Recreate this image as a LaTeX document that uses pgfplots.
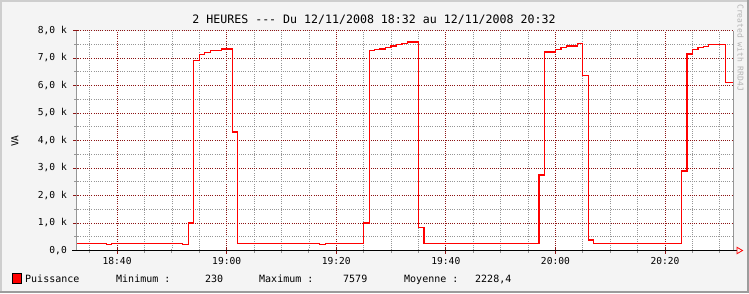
\documentclass[border=0pt]{standalone}
\usepackage{pgfplots}
\pgfplotsset{compat=1.18}
\usepackage{fontspec}
\setmainfont{DejaVu Sans Mono}[Ligatures=TeXOff]
\definecolor{mgrid}{RGB}{140,20,20}
\definecolor{ngrid}{RGB}{150,150,150}
\definecolor{bgc}{RGB}{244,244,244}
\definecolor{frameL}{RGB}{206,206,206}
\definecolor{frameD}{RGB}{156,156,156}
\definecolor{wm}{RGB}{180,180,180}
\definecolor{pred}{RGB}{255,0,0}
\begin{document}
\begin{tikzpicture}[x=1pt,y=1pt]
\path[use as bounding box] (0,0) rectangle (749,293);
\fill[bgc] (0,0) rectangle (749,293);
\fill[frameL] (0,0) rectangle (2,293);
\fill[frameL] (0,291) rectangle (749,293);
\fill[frameD] (747,0) rectangle (749,293);
\fill[frameD] (0,0) rectangle (749,2);
\fill[white] (76,42.5) rectangle (733.5,262.5);
\begin{axis}[
  scale only axis, width=657.5pt, height=220pt,
  at={(76pt,42.5pt)}, anchor=south west,
  xmin=32.5, xmax=152.5, ymin=0, ymax=8000,
  axis line style={draw=none},
  xtick pos=lower, ytick pos=left,
  xtick={40,60,80,100,120,140},
  xticklabels={18:40,19:00,19:20,19:40,20:00,20:20},
  minor xtick={35,45,50,55,65,70,75,85,90,95,105,110,115,125,130,135,145,150},
  ytick={0,1000,2000,3000,4000,5000,6000,7000,8000},
  yticklabels={{0,0},{1,0 k},{2,0 k},{3,0 k},{4,0 k},{5,0 k},{6,0 k},{7,0 k},{8,0 k}},
  minor ytick={500,1500,2500,3500,4500,5500,6500,7500},
  grid=both,
  major grid style={draw=mgrid, line width=0.7pt, dash pattern=on 1pt off 1.2pt},
  minor grid style={draw=ngrid, line width=0.7pt, dash pattern=on 1pt off 1.2pt},
  tick align=center, major tick length=6pt, minor tick length=4pt,
  major tick style={draw=mgrid, line width=0.8pt},
  minor tick style={draw=ngrid, line width=0.8pt},
  xticklabel style={font=\fontsize{9.6}{11}\selectfont, inner sep=0pt, anchor=north, yshift=-4pt},
  yticklabel style={font=\fontsize{9.6}{11}\selectfont, inner sep=0pt, anchor=east, xshift=-6pt},
]
\addplot[const plot, color=pred, line width=1.25pt, mark=none] coordinates {
(32.5,255) (38,230) (39,255) (52,230) (53,1000) (54,6910) (55,7130) (56,7210)
(57,7260) (59,7330) (61,4310) (62,255) (77,230) (78,255) (85,1000) (86,7260)
(87,7300) (88,7330) (89,7380) (90,7440) (91,7480) (92,7520) (93,7579) (95,840)
(96,255) (117,2750) (118,7220) (120,7320) (121,7370) (122,7440) (124,7520)
(125,6370) (126,380) (127,255) (143,2890) (144,7150) (145,7320) (146,7370)
(147,7430) (148,7490) (151,6110) (152.5,6110)
};
\end{axis}
\draw[ngrid, line width=1pt] (76,42.5) -- (76,262.5);
\draw[ngrid, line width=1pt] (733.5,42.5) -- (733.5,262.5);
\draw[black, line width=1pt] (72,42.5) -- (737,42.5);
\draw[red, line width=0.8pt] (737,45.7) -- (742.5,42.5) -- (737,39.3) -- cycle;
\node[anchor=base, inner sep=0pt, font=\fontsize{11.6}{13}\selectfont] at (374,269.7) {2 HEURES --- Du 12/11/2008 18:32 au 12/11/2008 20:32};
\node[rotate=90, inner sep=0pt, font=\fontsize{9.6}{11}\selectfont] at (15,152) {VA};
\node[rotate=-90, anchor=west, inner sep=0pt, text=wm, font=\fontsize{8}{9}\selectfont] at (740.5,289) {Created with RRD4J};
\fill[red] (12,10) rectangle (21.5,20);
\draw[black, line width=0.8pt] (12,10) rectangle (21.5,20);
\begin{scope}[every node/.style={anchor=base west, inner sep=0pt, font=\fontsize{10}{12}\selectfont}]
\node at (25,10.5) {Puissance};
\node at (116,10.5) {Minimum :};
\node at (205,10.5) {230};
\node at (259,10.5) {Maximum :};
\node at (343,10.5) {7579};
\node at (404,10.5) {Moyenne :};
\node at (475,10.5) {2228,4};
\end{scope}
\end{tikzpicture}
\end{document}
